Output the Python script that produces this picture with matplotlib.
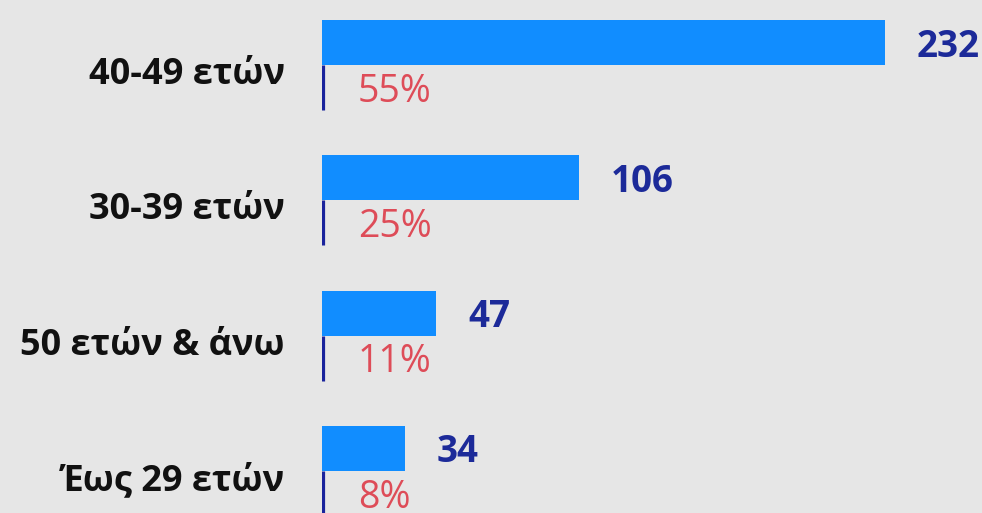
import matplotlib
matplotlib.use("Agg")
import matplotlib.pyplot as plt

categories = ["40-49 ετών", "30-39 ετών", "50 ετών & άνω", "Έως 29 ετών"]
counts = [232, 106, 47, 34]
shares = ["55%", "25%", "11%", "8%"]

plt.rcParams['font.family'] = ['Open Sans', 'DejaVu Sans']

bg = "#e6e6e6"
fig = plt.figure(figsize=(9.82, 5.13), dpi=100, facecolor=bg)
# axes from the bar baseline (x=322px) to the right edge
ax = fig.add_axes([322 / 982, 0, 660 / 982, 1])
ax.set_facecolor(bg)

px = 563 / 232          # pixels per unit
step = 135.3            # pixels between rows
ax.set_xlim(0, 660 / px)
ax.set_ylim((513 - 42.5) / step, -42.5 / step)

pos = list(range(len(categories)))
bh = 45 / step
ax.barh(pos, counts, height=bh, color="#118dff")

for i, (c, v, s) in enumerate(zip(categories, counts, shares)):
    # small dark stem under the bar
    ax.plot([0.6, 0.6], [i + bh / 2, i + bh / 2 + 45 / step],
            color="#1a239c", lw=2.3, solid_capstyle="butt")
    ax.text(v + 32 / px, i + 0.03, str(v), ha="left", va="center",
            fontsize=26.5, fontweight="bold", color="#1c2a99", clip_on=False)
    ax.text(36 / px, i + 0.365, s, ha="left", va="center",
            fontsize=27, color="#de4c58")
    ax.text(-37 / px, i + 0.24, c, ha="right", va="center",
            fontsize=26, fontweight="bold", color="#111111", clip_on=False)

ax.axis("off")
fig.savefig("out.png", dpi=100, facecolor=bg)
